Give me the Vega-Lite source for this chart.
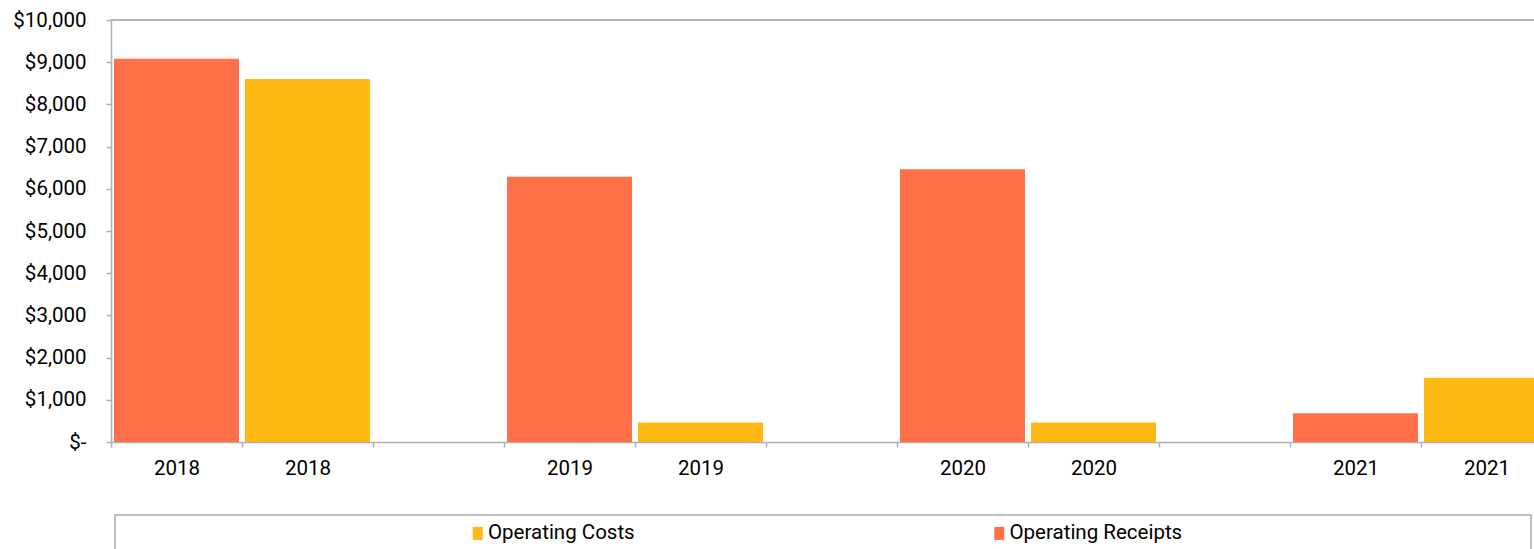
{
  "$schema": "https://vega.github.io/schema/vega-lite/v6.json",
  "usermeta": {"embedOptions": {"actions": false}},
  "width": 1423,
  "height": 422,
  "autosize": {"type": "none"},
  "padding": {"left": 111, "top": 20, "right": 0, "bottom": 107},
  "background": "white",
  "config": {
    "view": {"stroke": null},
    "font": "Roboto",
    "legend": {"strokeWidth": 2}
  },
  "data": {
    "values": [
      {"slot": "2018 Receipts", "year": "2018", "series": "Operating Receipts", "value": 9080},
      {"slot": "2018 Costs", "year": "2018", "series": "Operating Costs", "value": 8600},
      {"slot": "2019 Receipts", "year": "2019", "series": "Operating Receipts", "value": 6285},
      {"slot": "2019 Costs", "year": "2019", "series": "Operating Costs", "value": 460},
      {"slot": "2020 Receipts", "year": "2020", "series": "Operating Receipts", "value": 6465},
      {"slot": "2020 Costs", "year": "2020", "series": "Operating Costs", "value": 460},
      {"slot": "2021 Receipts", "year": "2021", "series": "Operating Receipts", "value": 680},
      {"slot": "2021 Costs", "year": "2021", "series": "Operating Costs", "value": 1520}
    ]
  },
  "layer": [
    {
      "mark": {"type": "bar", "width": {"band": 0.954}},
      "encoding": {
        "x": {
          "field": "slot",
          "type": "nominal",
          "sort": null,
          "scale": {
            "domain": ["2018 Receipts", "2018 Costs", "gap 2018", "2019 Receipts", "2019 Costs", "gap 2019", "2020 Receipts", "2020 Costs", "gap 2020", "2021 Receipts", "2021 Costs", "gap 2021"],
            "range": [0, 1572],
            "paddingInner": 0,
            "paddingOuter": 0
          },
          "axis": {
            "title": null,
            "tickBand": "extent",
            "tickSize": 5,
            "tickWidth": 1.5,
            "tickColor": "#B0B0B0",
            "domainColor": "#B0B0B0",
            "domainWidth": 1.5,
            "labelFontSize": 20.5,
            "labelColor": "#000000",
            "labelPadding": 11,
            "labelAngle": 0,
            "labelOverlap": false,
            "labelFlush": false,
            "labelLimit": 500,
            "grid": false,
            "labelExpr": "indexof(datum.label, 'gap') == 0 ? '' : slice(datum.label, 0, 4)"
          }
        },
        "y": {
          "field": "value",
          "type": "quantitative",
          "scale": {"domain": [0, 10000], "nice": false},
          "axis": {
            "title": null,
            "values": [0, 1000, 2000, 3000, 4000, 5000, 6000, 7000, 8000, 9000, 10000],
            "labelExpr": "datum.value == 0 ? '$-' : '$' + format(datum.value, ',')",
            "tickSize": 5,
            "tickWidth": 1.5,
            "tickColor": "#B0B0B0",
            "domainColor": "#B0B0B0",
            "domainWidth": 1.5,
            "labelFontSize": 20.5,
            "labelColor": "#000000",
            "labelPadding": 20,
            "grid": false
          }
        },
        "color": {
          "field": "series",
          "type": "nominal",
          "scale": {"domain": ["Operating Costs", "Operating Receipts"], "range": ["#FFB914", "#FF7048"]},
          "legend": {
            "title": " ",
            "titleOrient": "left",
            "titlePadding": 344.5,
            "titleFontSize": 20.5,
            "orient": "none",
            "legendX": 4,
            "legendY": 495,
            "direction": "horizontal",
            "columns": 2,
            "columnPadding": 353.5,
            "padding": 8,
            "strokeColor": "#BFBFBF",
            "fillColor": "white",
            "symbolType": "M-0.77,-1H0.77V1H-0.77Z",
            "symbolSize": 169,
            "symbolStrokeWidth": 0,
            "labelOffset": 0,
            "labelFontSize": 20.5,
            "labelColor": "#000000",
            "labelLimit": 2000,
            "labelExpr": "datum.value == 'Operating Receipts' ? pad(datum.label, 85) + '\u200b' : datum.label"
          }
        }
      }
    },
    {
      "mark": {"type": "rule", "color": "#B4B4B4", "strokeWidth": 1.5},
      "encoding": {"y": {"datum": 10000}}
    }
  ]
}
